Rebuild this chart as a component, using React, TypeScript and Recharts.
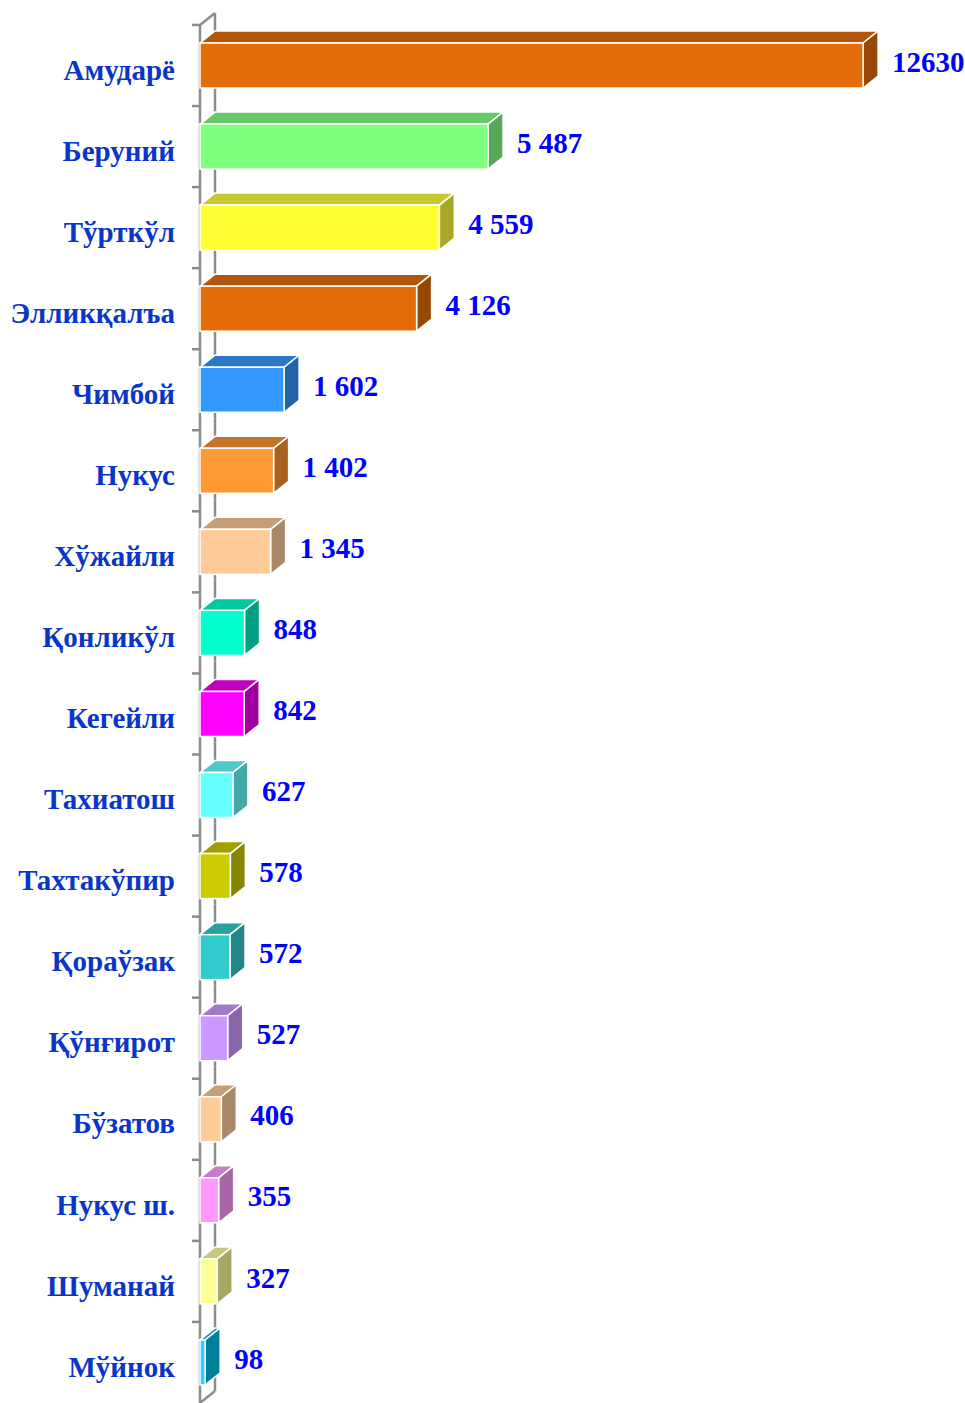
import React from "react";
import { BarChart, Bar, XAxis, YAxis, LabelList } from "recharts";

const districts = [
  "Амударё",
  "Беруний",
  "Тўрткўл",
  "Элликқалъа",
  "Чимбой",
  "Нукус",
  "Хўжайли",
  "Қонликўл",
  "Кегейли",
  "Тахиатош",
  "Тахтакўпир",
  "Қораўзак",
  "Қўнғирот",
  "Бўзатов",
  "Нукус ш.",
  "Шуманай",
  "Мўйнок",
];

const values = [12630, 5487, 4559, 4126, 1602, 1402, 1345, 848, 842, 627, 578, 572, 527, 406, 355, 327, 98];

const valueLabels = [
  "12630", "5 487", "4 559", "4 126", "1 602", "1 402", "1 345", "848", "842",
  "627", "578", "572", "527", "406", "355", "327", "98",
];

const frontColors = [
  "#E46C0A", "#80FF80", "#FFFF33", "#E46C0A", "#3399FF", "#FF9933", "#FFCC99", "#00FFCC",
  "#FF00FF", "#66FFFF", "#CCCC00", "#33CCCC", "#CC99FF", "#FFCC99", "#FF99FF", "#FFFF99", "#33CCFF",
];

const sideColors = [
  "#984806", "#56A956", "#A8A828", "#984806", "#2262A8", "#A8621F", "#A88866", "#00A080",
  "#A000A0", "#44A8A8", "#858500", "#218787", "#8866A8", "#A88866", "#A866A8", "#A8A866", "#00809A",
];

const topColors = [
  "#B4560A", "#68C868", "#C8C832", "#B4560A", "#2A78C8", "#C87428", "#C89E78", "#00C8A0",
  "#C000C0", "#52C8C8", "#A0A000", "#28A0A0", "#A07CC8", "#C89E78", "#C87CC8", "#C8C87C", "#0098B8",
];

const data = districts.map((name, i) => ({ name, value: values[i], label: valueLabels[i] }));

const W = 965;
const H = 1403;
const TOP = 25;
const BOTTOM = 0;
const BAND = (H - TOP - BOTTOM) / districts.length;
const BAR = 45;
const DX = 15;
const DY = 12;
const AXIS_GREY = "#8C8C8C";
const SERIF = '"Liberation Serif", "Times New Roman", serif';

function Box(props: any) {
  const { x, y, width, height, index } = props;
  const w = Math.max(width, 0);
  const top = `${x},${y} ${x + DX},${y - DY} ${x + w + DX},${y - DY} ${x + w},${y}`;
  const side = `${x + w},${y} ${x + w + DX},${y - DY} ${x + w + DX},${y + height - DY} ${x + w},${y + height}`;
  return (
    <g>
      <polygon points={top} fill={topColors[index]} stroke="#fff" strokeWidth={1.5} />
      <polygon points={side} fill={sideColors[index]} stroke="#fff" strokeWidth={1.5} />
      <rect x={x} y={y} width={w} height={height} fill={frontColors[index]} stroke="#fff" strokeWidth={1.5} />
    </g>
  );
}

// axis "wall": front line, back line, tick marks at band edges
function Wall(props: any) {
  const { x, y, height, index } = props;
  const bandTop = y - (BAND - height) / 2;
  const bandBottom = bandTop + BAND;
  const last = index === districts.length - 1;
  return (
    <g stroke={AXIS_GREY} strokeWidth={2.5} fill="none">
      <line x1={x} y1={bandTop} x2={x} y2={bandBottom} />
      <line x1={x + DX} y1={bandTop - DY} x2={x + DX} y2={bandBottom - DY} />
      <line x1={x - 8} y1={bandTop} x2={x} y2={bandTop} />
      {index === 0 && <line x1={x} y1={bandTop} x2={x + DX} y2={bandTop - DY} />}
      {last && <line x1={x} y1={bandBottom} x2={x + DX} y2={bandBottom - DY} />}
    </g>
  );
}

function CategoryTick(props: any) {
  const { y, payload } = props;
  return (
    <text
      x={175}
      y={y + 4}
      dy="0.35em"
      textAnchor="end"
      fill="#0A35C8"
      fontFamily={SERIF}
      fontWeight="bold"
      fontSize={29}
    >
      {payload.value}
    </text>
  );
}

function ValueLabel(props: any) {
  const { x, y, width, height, index } = props;
  return (
    <text
      x={x + width + DX + 14}
      y={y + height / 2 - 4}
      dy="0.35em"
      fill="#0000FF"
      fontFamily={SERIF}
      fontWeight="bold"
      fontSize={29}
    >
      {valueLabels[index]}
    </text>
  );
}

export default function App() {
  return (
    <div style={{ position: "absolute", left: 0, top: 0, width: W, height: H, background: "#fff" }}>
      <BarChart
        width={W}
        height={H}
        data={data}
        layout="vertical"
        margin={{ top: TOP, right: 30, bottom: BOTTOM, left: 0 }}
        barCategoryGap={BAND - BAR}
      >
        <XAxis type="number" domain={[0, 14000]} hide />
        <YAxis
          type="category"
          dataKey="name"
          width={200}
          axisLine={false}
          tickLine={false}
          interval={0}
          tick={<CategoryTick />}
        />
        <Bar
          dataKey="value"
          barSize={BAR}
          shape={<Box />}
          background={<Wall />}
          isAnimationActive={false}
        >
          <LabelList dataKey="label" content={<ValueLabel />} />
        </Bar>
      </BarChart>
    </div>
  );
}
